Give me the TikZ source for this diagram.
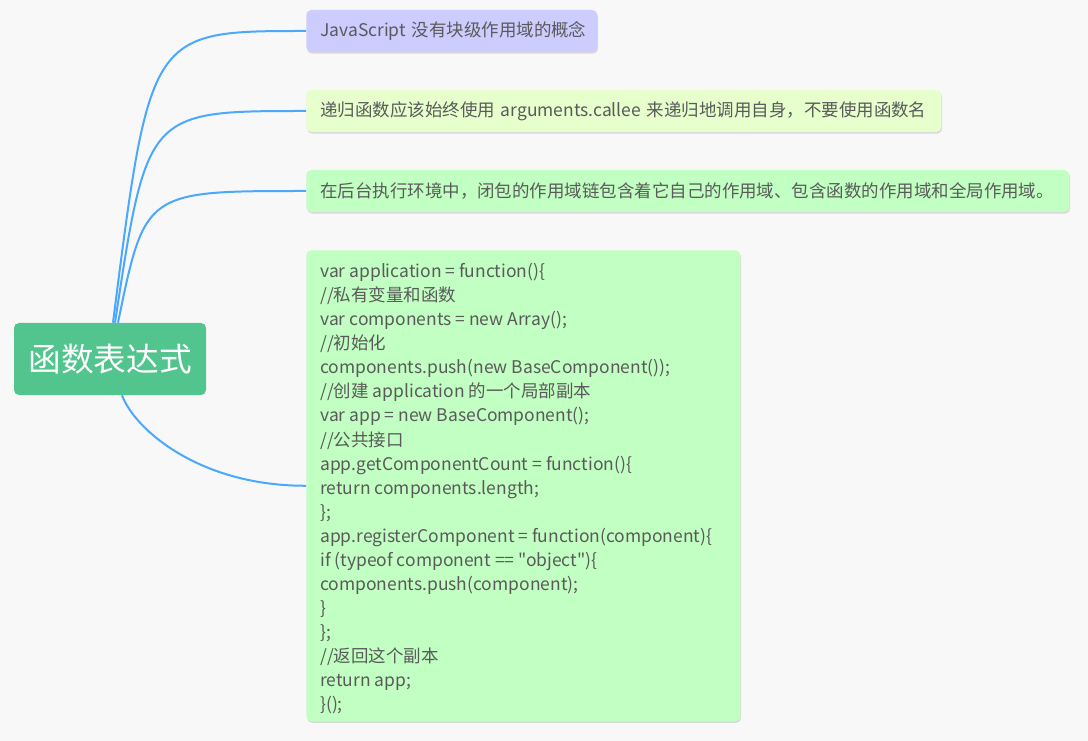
\documentclass[tikz,border=0pt]{standalone}
\usepackage{fontspec}
\setmainfont{Noto Sans CJK SC}[Ligatures=TeXOff]
\usetikzlibrary{shadows}
\definecolor{bg}{HTML}{F8F8F8}
\definecolor{rootgreen}{HTML}{52C48E}
\definecolor{cone}{HTML}{CCCCFF}
\definecolor{ctwo}{HTML}{E6FFCC}
\definecolor{cthree}{HTML}{C2FFC2}
\definecolor{txt}{HTML}{5A5A5A}
\definecolor{link}{HTML}{4AA8FF}
\begin{document}
\begin{tikzpicture}[x=0.75pt,y=-0.75pt,
  rootbox/.style={fill=rootgreen, text=white, rounded corners=3.75pt,
    minimum width=144pt, minimum height=54pt, inner sep=0pt,
    font=\fontsize{24.5}{28}\selectfont},
  topicbox/.style={rounded corners=3.75pt, text=txt,
    font=\fontsize{13.1}{18.05}\selectfont, inner xsep=10.5pt, inner ysep=0pt,
    anchor=west, minimum height=31.5pt,
    drop shadow={shadow xshift=0.6pt, shadow yshift=-1.2pt, fill=black, opacity=0.12}},
  conn/.style={draw=link, line width=1.5pt}]
\fill[bg] (0,0) rectangle (1088,741);
\useasboundingbox (0,0) rectangle (1088,741);

\node[rootbox] (root) at (110,359) {函数表达式};

\node[topicbox, fill=cone, align=left, text width=197.25pt] (n1) at (306,31) {\mbox{JavaScript 没有块级作用域的概念}};
\node[topicbox, fill=ctwo, align=left, text width=455.25pt] (n2) at (306,111) {\mbox{递归函数应该始终使用 arguments.callee 来递归地调用自身，不要使用函数名}};
\node[topicbox, fill=cthree, align=left, text width=551.25pt] (n3) at (306,191) {\mbox{在后台执行环境中，闭包的作用域链包含着它自己的作用域、包含函数的作用域和全局作用域。}};
\node[topicbox, fill=cthree, anchor=north west, minimum height=353.25pt] (n4) at (306,250) {%
\begin{minipage}{304.5pt}\raggedright\parindent=0pt
\vspace*{4.5pt}%
var application = function()\{\\
//私有变量和函数\\
var components = new Array();\\
//初始化\\
components.push(new BaseComponent());\\
//创建 application 的一个局部副本\\
var app = new BaseComponent();\\
//公共接口\\
app.getComponentCount = function()\{\\
return components.length;\\
\};\\
\mbox{app.registerComponent = function(component)\{}\\
if (typeof component == "object")\{\\
components.push(component);\\
\}\\
\};\\
//返回这个副本\\
return app;\\
\}();
\end{minipage}};

\draw[conn] ([xshift=2.25pt]root.north) .. controls (150,31) .. (n1.west);
\draw[conn] ([xshift=3.75pt]root.north) .. controls (147,111) .. (n2.west);
\draw[conn] ([xshift=6pt]root.north) .. controls (145,191) .. (n3.west);
\draw[conn] ([xshift=9pt]root.south) .. controls (135,430) and (200,486) .. (n4.west);
\end{tikzpicture}
\end{document}
